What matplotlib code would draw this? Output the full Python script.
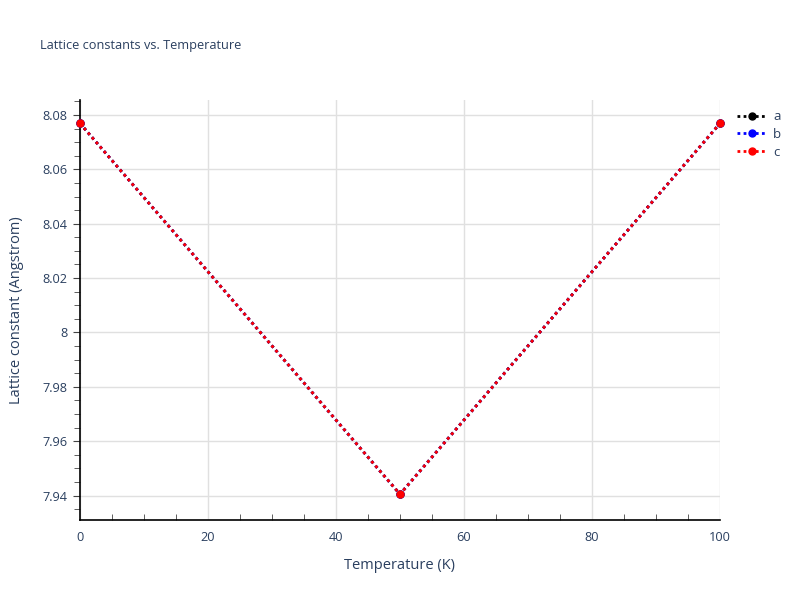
import matplotlib
matplotlib.use("Agg")
import matplotlib.pyplot as plt
from matplotlib.ticker import MultipleLocator
from matplotlib.lines import Line2D

# data
temperature = [0, 50, 100]
lat_a = [8.0769, 7.9405, 8.0769]
lat_b = [8.0769, 7.9405, 8.0769]
lat_c = [8.0769, 7.9405, 8.0769]
series_names = ['a', 'b', 'c']
series_colors = ['black', 'blue', 'red']

text_color = '#2a3f5f'
plt.rcParams['font.family'] = ['Open Sans', 'DejaVu Sans']

fig = plt.figure(figsize=(8, 6), dpi=100, facecolor='white')
ax = fig.add_axes([0.1, 0.1333, 0.8, 0.7])

for vals, name, col in zip([lat_a, lat_b, lat_c], series_names, series_colors):
    ax.plot(temperature, vals, linestyle=(0, (1, 1.2)), linewidth=2, color=col,
            marker='o', markersize=5, label=name, clip_on=False, zorder=3)

ax.set_xlim(0, 100)
ax.set_ylim(7.9310, 8.0855)
ax.xaxis.set_major_locator(MultipleLocator(20))
ax.xaxis.set_minor_locator(MultipleLocator(5))
ax.yaxis.set_major_locator(MultipleLocator(0.02))
ax.yaxis.set_minor_locator(MultipleLocator(0.005))

def fmt_y(v, pos):
    s = f'{v:.2f}'
    return '8' if s == '8.00' else s
ax.yaxis.set_major_formatter(plt.FuncFormatter(fmt_y))

ax.grid(True, which='major', color='#e0e0e0', linewidth=1)
ax.set_axisbelow(True)
for side in ['top', 'right']:
    ax.spines[side].set_visible(False)
for side in ['left', 'bottom']:
    ax.spines[side].set_color('black')
    ax.spines[side].set_linewidth(1.2)

ax.tick_params(axis='x', which='major', length=0, labelsize=9.2, labelcolor=text_color, pad=8)
ax.tick_params(axis='x', which='minor', direction='in', length=4, color='#444444')
ax.tick_params(axis='y', which='major', direction='out', length=5, color='#444444', labelsize=9.2, labelcolor=text_color, pad=4)
ax.tick_params(axis='y', which='minor', direction='out', length=4, color='#444444')

ax.set_xlabel('Temperature (K)', fontsize=10.5, color=text_color, labelpad=10)
ax.set_ylabel('Lattice constant (Angstrom)', fontsize=10.5, color=text_color, labelpad=13)
fig.text(0.05, 0.925, 'Lattice constants vs. Temperature', fontsize=9.2, color=text_color,
         ha='left', va='center')

handles = [Line2D([0], [0], color=c, linestyle=(0, (1, 1.2)), linewidth=2, marker='o', markersize=5)
           for c in series_colors]
fig.legend(handles, series_names, loc='upper left', bbox_to_anchor=(0.915, 0.825),
           frameon=False, fontsize=9.5, labelcolor=text_color, handlelength=2.2,
           handletextpad=0.5, labelspacing=0.35, borderaxespad=0)

fig.savefig('out.png', dpi=100, facecolor='white')
